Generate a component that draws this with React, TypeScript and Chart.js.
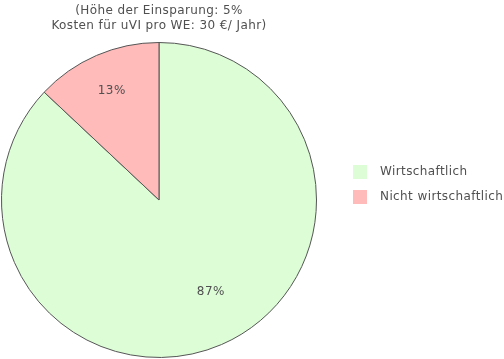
import React, { useEffect, useRef } from "react";
import { Chart, registerables } from "chart.js";

Chart.register(...registerables);

const categories = ["Wirtschaftlich", "Nicht wirtschaftlich"];
const shares = [87, 13];
const sliceColors = ["#dcfdd6", "#ffbaba"];
const titleLines = ["(Höhe der Einsparung: 5%", "Kosten für uVI pro WE: 30 €/ Jahr)"];

const FONT = "12px 'DejaVu Sans', sans-serif";
const TEXT = "#505050";

const drawPlugin = {
  id: "customDraw",
  afterDraw(chart: any) {
    const ctx = chart.ctx as CanvasRenderingContext2D;
    const meta = chart.getDatasetMeta(0);
    ctx.save();
    ctx.font = FONT;
    (ctx as any).letterSpacing = "0.4px";
    ctx.fillStyle = TEXT;
    ctx.textAlign = "center";
    ctx.textBaseline = "middle";
    // slice labels
    const radFrac = [0.67, 0.755];
    const angAdj = [-6 * Math.PI / 180, 0];
    meta.data.forEach((arc: any, i: number) => {
      const p = arc.getProps(["x", "y", "startAngle", "endAngle", "outerRadius"], true);
      const mid = (p.startAngle + p.endAngle) / 2 + angAdj[i];
      const r = p.outerRadius * radFrac[i];
      ctx.fillText(shares[i] + "%", p.x + Math.cos(mid) * r, p.y + Math.sin(mid) * r);
    });
    // title
    const cx = meta.data[0].x;
    titleLines.forEach((t, i) => ctx.fillText(t, cx, 11 + i * 15));
    // legend
    ctx.textAlign = "left";
    categories.forEach((c, i) => {
      const y = 172 + i * 25;
      ctx.fillStyle = sliceColors[i];
      ctx.fillRect(353, y - 7, 14, 14);
      ctx.fillStyle = TEXT;
      ctx.fillText(c, 380, y);
    });
    ctx.restore();
  },
};

export default function App() {
  const ref = useRef<HTMLCanvasElement>(null);
  useEffect(() => {
    if (!ref.current) return;
    const chart = new Chart(ref.current, {
      type: "pie",
      data: {
        labels: categories,
        datasets: [
          {
            data: shares,
            backgroundColor: sliceColors,
            borderColor: "#555555",
            borderWidth: 1,
            hoverOffset: 0,
            offset: 0,
          },
        ],
      },
      options: {
        animation: false,
        responsive: false,
        layout: { padding: { left: 1, top: 42, right: 187, bottom: 1 } },
        plugins: {
          legend: { display: false },
          title: { display: false },
          tooltip: { enabled: false },
        },
      },
      plugins: [drawPlugin],
    });
    return () => chart.destroy();
  }, []);
  return (
    <div style={{ position: "fixed", left: 0, top: 0, width: 504, height: 359, background: "#fff" }}>
      <canvas ref={ref} width={504} height={359} style={{ width: 504, height: 359, display: "block" }} />
    </div>
  );
}
